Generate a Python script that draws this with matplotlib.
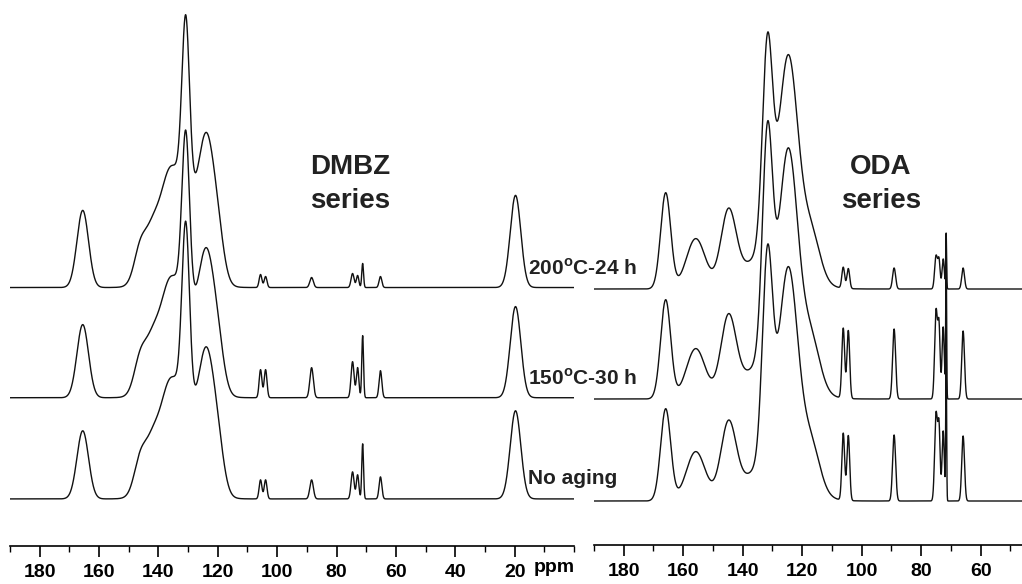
import numpy as np
import matplotlib.pyplot as plt

plt.rcParams['font.family'] = ['Liberation Sans', 'DejaVu Sans']
plt.rcParams['mathtext.fontset'] = 'custom'
plt.rcParams['mathtext.rm'] = 'Liberation Sans:bold'
plt.rcParams['mathtext.bf'] = 'Liberation Sans:bold'

# peak tables: centre (ppm), height, width (ppm, fwhm)
# ---- DMBZ series ----
dmbz_ppm = [165.5, 146.0, 142.0, 137.0, 133.0, 130.8, 123.8, 120.0,
            105.6, 103.9, 88.4, 74.6, 72.9, 71.2, 65.2, 19.7]
dmbz_width = [4.6, 5.0, 5.0, 6.0, 14.0, 3.0, 6.0, 5.0,
              1.1, 1.1, 1.4, 1.2, 1.0, 0.7, 1.1, 4.2]
dmbz_200c_24h = [77, 35, 28, 30, 105, 170, 115, 40, 13, 11, 10, 14, 12, 24, 11, 92]
dmbz_150c_30h = [73, 35, 28, 30, 105, 165, 110, 40, 28, 28, 30, 36, 30, 62, 27, 91]
dmbz_no_aging = [68, 35, 28, 30, 105, 175, 112, 40, 19, 19, 19, 27, 24, 55, 22, 88]
dmbz_offsets = [258, 148, 47]

# ---- ODA series ----
oda_ppm = [165.9, 155.8, 144.8, 131.7, 130.0, 124.6, 117.0,
           106.2, 104.5, 89.1, 75.0, 74.0, 72.6, 71.6, 65.9]
oda_width = [4.0, 7.5, 6.0, 4.0, 20.0, 7.5, 7.0,
             1.1, 1.1, 1.2, 1.1, 0.9, 0.9, 0.35, 1.1]
oda_200c_24h = [96, 50, 72, 200, 40, 200, 45, 21, 20, 21, 33, 28, 30, 55, 21]
oda_150c_30h = [99, 50, 76, 218, 42, 215, 48, 70, 68, 70, 88, 70, 72, 150, 68]
oda_no_aging = [92, 49, 72, 200, 40, 200, 45, 67, 65, 66, 87, 72, 70, 150, 65]
oda_offsets = [256, 146, 44]

trace_labels = ['200$^{\\mathbf{o}}$C-24 h', '150$^{\\mathbf{o}}$C-30 h', 'No aging']
label_y = [268, 378, 478]


def spectrum(x, centres, heights, widths):
    y = np.zeros_like(x)
    for c, h, w in zip(centres, heights, widths):
        y += h * np.exp(-4 * np.log(2) * ((x - c) / w) ** 2)
    return y


W, H = 1022, 584
fig = plt.figure(figsize=(W / 100, H / 100), dpi=100)
axL = fig.add_axes([10 / W, (H - 546) / H, 564 / W, 546 / H])
axR = fig.add_axes([594 / W, (H - 545) / H, 428 / W, 545 / H])

xl = np.linspace(190, 0, 8000)
for heights, off in zip([dmbz_200c_24h, dmbz_150c_30h, dmbz_no_aging], dmbz_offsets):
    axL.plot(xl, off + spectrum(xl, dmbz_ppm, heights, dmbz_width), color='#111111', lw=1.0)

xr = np.linspace(190, 46.1, 8000)
for heights, off in zip([oda_200c_24h, oda_150c_30h, oda_no_aging], oda_offsets):
    axR.plot(xr, off + spectrum(xr, oda_ppm, heights, oda_width), color='#111111', lw=1.0)

axL.set_xlim(190, 0)
axR.set_xlim(190, 46.1)
axL.set_xticks(range(20, 181, 20))
axL.set_xticks([0] + list(range(10, 191, 20)), minor=True)
axR.set_xticks(range(60, 181, 20))
axR.set_xticks(list(range(50, 191, 20)), minor=True)

for ax in (axL, axR):
    ax.set_ylim(0, 545)
    ax.patch.set_visible(False)
    for s in ('top', 'left', 'right'):
        ax.spines[s].set_visible(False)
    ax.spines['bottom'].set_linewidth(1.2)
    ax.set_yticks([])
    ax.tick_params(axis='x', which='major', direction='out', length=8, width=1.2,
                   pad=5, labelsize=14)
    ax.tick_params(axis='x', which='minor', direction='out', length=4, width=1.0)
    for lab in ax.get_xticklabels():
        lab.set_fontweight('bold')

fig.text(554 / W, 1 - 568 / H, 'ppm', fontsize=14, fontweight='bold', ha='center', va='center')

fig.text(350 / W, 1 - 167 / H, 'DMBZ', fontsize=20, fontweight='bold', ha='center', va='center',
         color='#222222')
fig.text(350 / W, 1 - 201 / H, 'series', fontsize=20, fontweight='bold', ha='center', va='center',
         color='#222222')
fig.text(881 / W, 1 - 167 / H, 'ODA', fontsize=20, fontweight='bold', ha='center', va='center',
         color='#222222')
fig.text(881 / W, 1 - 201 / H, 'series', fontsize=20, fontweight='bold', ha='center', va='center',
         color='#222222')

for lab, y in zip(trace_labels, label_y):
    fig.text(528 / W, 1 - y / H, lab, fontsize=15, fontweight='bold', ha='left', va='center',
             color='#222222')

fig.savefig('out.png', dpi=100)
